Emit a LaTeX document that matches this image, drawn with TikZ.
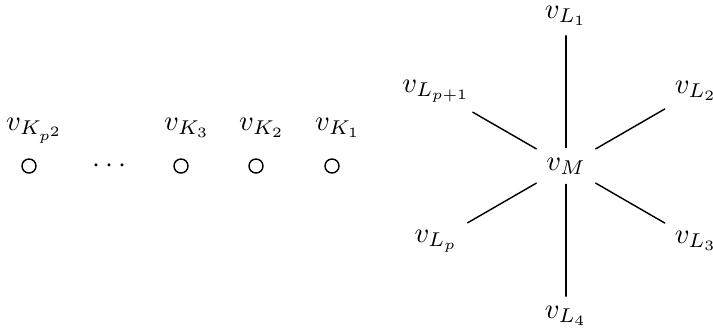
\documentclass[tikz,border=0pt]{standalone}
\usepackage{amsmath,amssymb}
\usepackage{xcolor}
\usepackage{tikz}
\usetikzlibrary{calc}
\tikzset{
  base/.style={draw=black, line width=0.5pt, line cap=round},
  vert/.style={circle, draw=black, line width=0.5pt, inner sep=0pt, minimum size=4.9pt},
  lab/.style={text=black, inner sep=3.33pt},
  labb/.style={text=black, anchor=base},
}

\begin{document}
\begin{tikzpicture}[x=0.35pt, y=-0.35pt]
  \useasboundingbox (0,0) rectangle (713,333);
  \def\r{150}
  \coordinate (C) at (566,166); % y runs downwards here

  % the row of isolated vertices
  \node[vert] (K1) at (332,166) {};
  \node[vert] (K2) at (256,166) {};
  \node[vert] (K3) at (181,166) {};
  \node[vert] (Kp) at (29,166) {};
  \node[lab] (dots) at (112,166) {$\cdots$};
  \node[labb] (lK1) at (338,130) {$v_{K_1}$};
  \node[labb] (lK2) at (262,130) {$v_{K_2}$};
  \node[labb] (lK3) at (187,130) {$v_{K_3}$};
  \node[labb] (lKp) at (35,130) {$v_{K_{p^2}}$};

  % the star
  \node[lab] (M) at (C) {$v_M$};
  \node[lab] (L1) at ($(C)+(-90:\r)$) {$v_{L_1}$};
  \node[lab] (L2) at ($(C)+(-30:\r)$) {$v_{L_2}$};
  \node[lab] (L3) at ($(C)+(30:\r)$) {$v_{L_3}$};
  \node[lab] (L4) at ($(C)+(90:\r)$) {$v_{L_4}$};
  \node[lab] (Lp) at ($(C)+(150:\r)$) {$v_{L_p}$};
  \node[lab] (Lq) at ($(C)+(210:\r)$) {$v_{L_{p+1}}$};

  \foreach \n in {L1,L2,L3,L4,Lp,Lq}
    \draw[base] (M) -- (\n);
\end{tikzpicture}
\end{document}
